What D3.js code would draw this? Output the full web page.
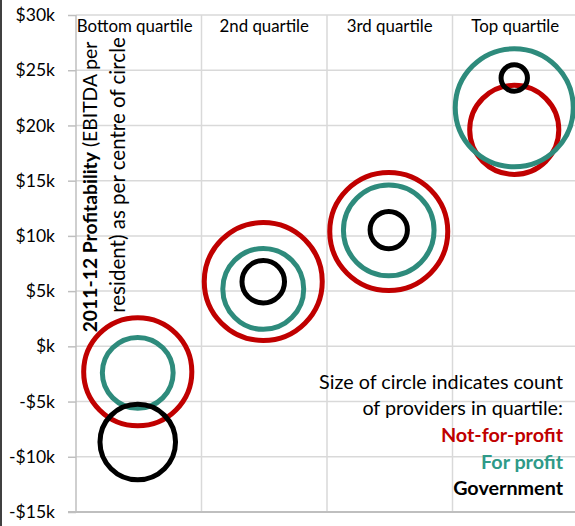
<!DOCTYPE html>
<html>
<head>
<meta charset="utf-8">
<script src="https://cdn.jsdelivr.net/npm/d3@7"></script>
<style>
  body { margin: 0; background: #fff; }
  svg { display: block; font-family: Lato, "Open Sans", sans-serif; }
</style>
</head>
<body>
<svg id="chart" width="575" height="526"></svg>
<script>
// ---- data ----
const categories = ["Bottom quartile", "2nd quartile", "3rd quartile", "Top quartile"];
const seriesNames = ["Not-for-profit", "For profit", "Government"];
// profitability ($k EBITDA per resident) at circle centre
const nfpValue = [-2.3, 5.87, 10.4, 19.6];
const fpValue  = [-2.4, 5.2, 10.5, 21.6];
const govValue = [-8.67, 5.85, 10.53, 24.3];
// relative count of providers (circle size)
const nfpCount = [84, 100, 100, 57];
const fpCount  = [36, 47, 59, 100];
const govCount = [41, 13, 10, 5];
const yTicks = [-15, -10, -5, 0, 5, 10, 15, 20, 25, 30];
const yTickLabels = ["-$15k", "-$10k", "-$5k", "$k", "$5k", "$10k", "$15k", "$20k", "$25k", "$30k"];

const colors = { "Not-for-profit": "#c00000", "For profit": "#2e8b7c", "Government": "#000000" };

const svg = d3.select("#chart");
const L = 76, R = 578, T = 15, B = 512;

// measure helper: font size so that a string reaches a target width
function fitSize(str, target, weight) {
  const t = svg.append("text").attr("font-size", 16).attr("font-weight", weight || "normal").text(str);
  const w = t.node().getComputedTextLength();
  t.remove();
  return 16 * target / w;
}
const tickFs = fitSize("-$15k", 46);
const headFs = fitSize("Bottom quartile", 116);
const legFs = fitSize("Size of circle indicates count", 244);
const title2Fs = fitSize("resident) as per centre of circle", 276);
const title1Fs = title2Fs * 0.94;

const x = d3.scaleBand().domain(categories).range([L, R]);
const y = d3.scaleLinear().domain([-15, 30]).range([B, T]);
const r = d3.scaleSqrt().domain([0, 100]).range([0, 59]);

// frame line at left edge
svg.append("line").attr("x1", 1).attr("x2", 1).attr("y1", 0).attr("y2", 526)
  .attr("stroke", "#000").attr("stroke-width", 1.5);

// horizontal gridlines
svg.append("g").selectAll("line").data(yTicks.filter(v => v !== -15)).join("line")
  .attr("x1", L).attr("x2", 575).attr("y1", d => y(d)).attr("y2", d => y(d))
  .attr("stroke", "#d9d9d9").attr("stroke-width", 1.5);

// vertical separators
svg.append("g").selectAll("line").data(categories.slice(1)).join("line")
  .attr("x1", d => x(d)).attr("x2", d => x(d)).attr("y1", T).attr("y2", B)
  .attr("stroke", "#d9d9d9").attr("stroke-width", 1.5);

// y axis
const yAxis = d3.axisLeft(y).tickValues(yTicks)
  .tickFormat((d, i) => yTickLabels[i]).tickSize(8).tickPadding(13);
const ga = svg.append("g").attr("transform", `translate(${L},0)`).call(yAxis);
ga.select(".domain").remove();
ga.selectAll(".tick line").attr("stroke", "#bfbfbf").attr("stroke-width", 1.5);
ga.selectAll(".tick text").attr("font-size", tickFs).attr("fill", "#000")
  .attr("font-family", "Lato, sans-serif");
svg.append("line").attr("x1", L).attr("x2", L).attr("y1", T).attr("y2", B)
  .attr("stroke", "#bfbfbf").attr("stroke-width", 1.5);
// bottom axis line
svg.append("line").attr("x1", L - 8).attr("x2", 575).attr("y1", B).attr("y2", B)
  .attr("stroke", "#bfbfbf").attr("stroke-width", 2);

// column headers
svg.append("g").selectAll("text").data(categories).join("text")
  .attr("x", d => x(d) + x.bandwidth() / 2 + (d === "Bottom quartile" ? -4 : 0))
  .attr("y", 32).attr("text-anchor", "middle").attr("font-size", headFs).attr("fill", "#000")
  .text(d => d);

// circles
const series = [
  { name: "Not-for-profit", values: nfpValue, counts: nfpCount },
  { name: "For profit", values: fpValue, counts: fpCount },
  { name: "Government", values: govValue, counts: govCount }
];
series.forEach(s => {
  svg.append("g").selectAll("circle").data(categories).join("circle")
    .attr("cx", (d) => x(d) + x.bandwidth() / 2 - 1)
    .attr("cy", (d, i) => y(s.values[i]))
    .attr("r", (d, i) => r(s.counts[i]))
    .attr("fill", "none").attr("stroke", colors[s.name]).attr("stroke-width", 5);
});

// y axis title (rotated)
const yt = svg.append("text").attr("transform", "translate(97,187) rotate(-90)")
  .attr("text-anchor", "middle").attr("font-size", title1Fs).attr("fill", "#000");
yt.append("tspan").attr("font-weight", "bold").text("2011-12 Profitability");
yt.append("tspan").text(" (EBITDA per");
svg.append("text").attr("transform", "translate(125,175) rotate(-90)")
  .attr("text-anchor", "middle").attr("font-size", title2Fs).attr("fill", "#000")
  .text("resident) as per centre of circle");

// legend
const lx = 563;
const legendLines = [
  { t: "Size of circle indicates count", c: "#000", w: "normal", y: 389 },
  { t: "of providers in quartile:", c: "#000", w: "normal", y: 415 },
  { t: seriesNames[0], c: colors["Not-for-profit"], w: "bold", y: 442 },
  { t: seriesNames[1], c: "#2e9a88", w: "bold", y: 469 },
  { t: seriesNames[2], c: "#000", w: "bold", y: 495 }
];
svg.append("g").selectAll("text").data(legendLines).join("text")
  .attr("x", lx).attr("y", d => d.y).attr("text-anchor", "end")
  .attr("font-size", legFs).attr("fill", d => d.c).attr("font-weight", d => d.w)
  .text(d => d.t);
</script>
</body>
</html>
